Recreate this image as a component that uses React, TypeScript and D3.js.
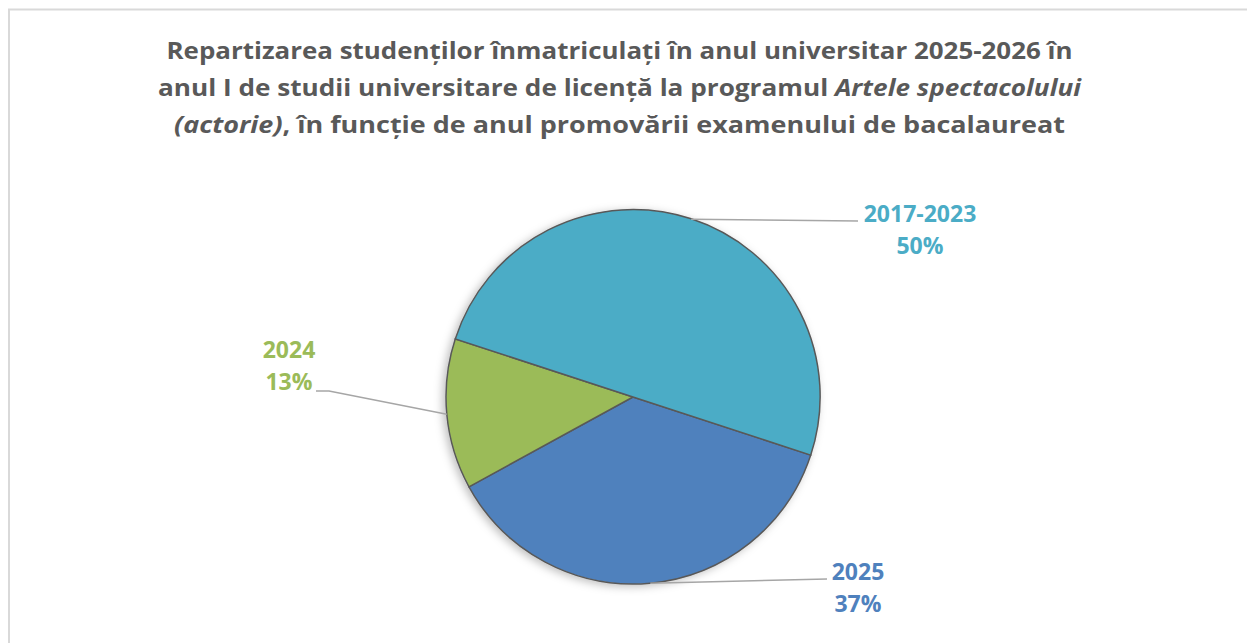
import React from "react";
import * as d3 from "d3";

// data
const categories = ["2025", "2024", "2017-2023"];
const values = [37, 13, 50];
const colors = ["#4F81BD", "#9BBB59", "#4BACC6"];
const titleLines = [
  [{ t: "Repartizarea studenților înmatriculați în anul universitar 2025-2026 în", i: false }],
  [
    { t: "anul I de studii universitare de licență la programul ", i: false },
    { t: "Artele spectacolului", i: true },
  ],
  [
    { t: "(actorie)", i: true },
    { t: ", în funcție de anul promovării examenului de bacalaureat", i: false },
  ],
];

// layout
const W = 1247;
const H = 643;
const cx = 633;
const cy = 397;
const R = 187;
const startDeg = 108.1;
const titleBase = [59, 96, 133];
const titleLen = [906, 923, 891];
// label anchor: [textX, line1 baseline, leader end x, leader end y, elbow x]
const labelPos = [
  { x: 858, y: 580, lx: 827, ly: 579, ex: 827 },
  { x: 289, y: 358, lx: 316, ly: 391, ex: 329 },
  { x: 920, y: 222, lx: 858, ly: 221, ex: 858 },
];

export default function App() {
  const pie = d3
    .pie<number>()
    .sort(null)
    .startAngle((startDeg * Math.PI) / 180)
    .endAngle((startDeg * Math.PI) / 180 + 2 * Math.PI)
    .value((d) => d);
  const arcs = pie(values);
  const arc = d3.arc<d3.PieArcDatum<number>>().innerRadius(0).outerRadius(R);
  const font = "'Open Sans', 'DejaVu Sans', sans-serif";

  return (
    <svg
      width={W}
      height={H}
      style={{ position: "absolute", left: 0, top: 0, background: "#fff" }}
    >
      <defs>
        <filter id="sh" x="-20%" y="-20%" width="140%" height="140%">
          <feDropShadow dx="-3" dy="2" stdDeviation="4" floodColor="#000" floodOpacity="0.25" />
        </filter>
      </defs>
      <rect x={9} y={9.5} width={W + 20} height={H + 20} fill="#fff" stroke="#d9d9d9" strokeWidth={2} />

      {titleLines.map((line, li) => (
        <text
          key={li}
          x={W / 2 - 4}
          y={titleBase[li]}
          textAnchor="middle"
          fontFamily={font}
          fontWeight="bold"
          fontSize={22.5}
          fill="#595959"
          textLength={titleLen[li]}
          lengthAdjust="spacingAndGlyphs"
        >
          {line.map((s, si) => (
            <tspan key={si} fontStyle={s.i ? "italic" : "normal"}>
              {s.t}
            </tspan>
          ))}
        </text>
      ))}

      <g transform={`translate(${cx},${cy})`}>
        <g filter="url(#sh)">
          {arcs.map((a, i) => (
            <path key={i} d={arc(a) || ""} fill={colors[i]} stroke="#595959" strokeWidth={1.5} />
          ))}
        </g>
      </g>

      {arcs.map((a, i) => {
        const mid = (a.startAngle + a.endAngle) / 2;
        const px = cx + R * Math.sin(mid);
        const py = cy - R * Math.cos(mid);
        const p = labelPos[i];
        return (
          <g key={i}>
            <polyline
              points={`${px},${py} ${p.ex},${p.ly} ${p.lx},${p.ly}`}
              fill="none"
              stroke="#a6a6a6"
              strokeWidth={1.5}
            />
            <text
              x={p.x}
              y={p.y}
              textAnchor="middle"
              fontFamily={font}
              fontWeight="bold"
              fontSize={23}
              fill={colors[i]}
            >
              <tspan x={p.x}>{categories[i]}</tspan>
              <tspan x={p.x} dy={32}>
                {Math.round(values[i])}%
              </tspan>
            </text>
          </g>
        );
      })}
    </svg>
  );
}
